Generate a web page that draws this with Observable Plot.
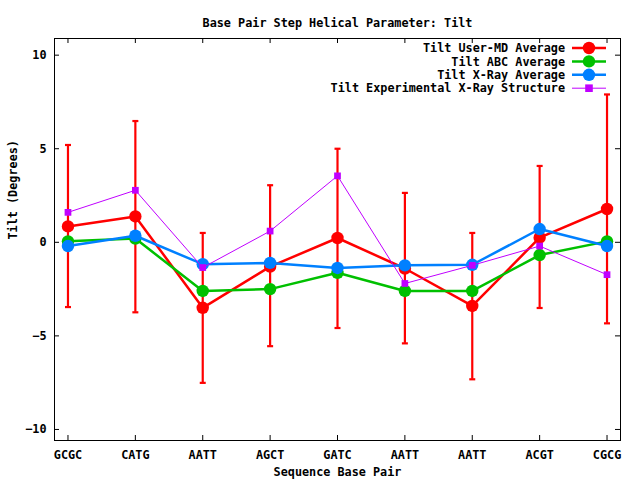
<!DOCTYPE html>
<html>
<head>
<meta charset="utf-8">
<script src="https://cdn.jsdelivr.net/npm/d3@7"></script>
<script src="https://cdn.jsdelivr.net/npm/@observablehq/plot@0.6"></script>
<style>
  html, body { margin: 0; padding: 0; background: #fff; }
</style>
</head>
<body>
<div id="chart"></div>
<script>
const title = "Base Pair Step Helical Parameter: Tilt";
const xLabel = "Sequence Base Pair";
const yLabel = "Tilt (Degrees)";
const categories = ["GCGC", "CATG", "AATT", "AGCT", "GATC", "AATT", "AATT", "ACGT", "CGCG"];
const userMD     = [0.85, 1.38, -3.5, -1.3, 0.23, -1.4, -3.4, 0.25, 1.78];
const userMDHigh = [5.2, 6.48, 0.5, 3.05, 5.0, 2.64, 0.5, 4.08, 7.9];
const userMDLow  = [-3.46, -3.74, -7.51, -5.55, -4.58, -5.4, -7.32, -3.51, -4.33];
const abcAvg     = [0.05, 0.2, -2.6, -2.5, -1.63, -2.6, -2.6, -0.68, 0.05];
const xrayAvg    = [-0.2, 0.35, -1.17, -1.1, -1.37, -1.23, -1.2, 0.71, -0.2];
const xrayExp    = [1.6, 2.78, -1.35, 0.6, 3.55, -2.2, -1.23, -0.2, -1.73];
const yTicks = [-10, -5, 0, 5, 10];
const seriesNames = ["Tilt User-MD Average", "Tilt ABC Average", "Tilt X-Ray Average", "Tilt Experimental X-Ray Structure"];
const seriesColors = ["#ff0000", "#00c000", "#0080ff", "#c000ff"];

const idx = categories.map((_, i) => i);
const rows = (vals) => vals.map((v, i) => ({i, v}));
const errRows = idx.map(i => ({i, lo: userMDLow[i], hi: userMDHigh[i]}));

const W = 640, H = 480, mL = 54, mR = 20, mT = 38, mB = 40;
const innerW = W - mL - mR, innerH = H - mT - mB, tk = 5;
const font = "'DejaVu Sans Mono', monospace";
const fs = "11.8px";

const capSymbol = {draw(ctx, size) { const r = Math.sqrt(size / Math.PI); ctx.moveTo(-r, 0); ctx.lineTo(r, 0); }};

const series = [userMD, abcAvg, xrayAvg];
const marks = [
  Plot.frame({stroke: "black"}),
  Plot.tickY(yTicks, {y: d => d, insetRight: innerW - tk, stroke: "black"}),
  Plot.tickY(yTicks, {y: d => d, insetLeft: innerW - tk, stroke: "black"}),
  Plot.tickX(idx, {x: d => d, insetTop: innerH - tk, stroke: "black"}),
  Plot.tickX(idx, {x: d => d, insetBottom: innerH - tk, stroke: "black"}),
  Plot.axisY(yTicks, {tickSize: 0, tickPadding: 8, label: null, fontWeight: "bold"}),
  Plot.axisX(idx, {tickSize: 0, tickPadding: 10, tickFormat: i => categories[i], label: null, fontWeight: "bold"}),
  Plot.ruleX(errRows, {x: "i", y1: "lo", y2: "hi", stroke: seriesColors[0], strokeWidth: 2.2}),
  Plot.dot(errRows, {x: "i", y: "lo", symbol: capSymbol, r: 3, stroke: seriesColors[0], strokeWidth: 2.2}),
  Plot.dot(errRows, {x: "i", y: "hi", symbol: capSymbol, r: 3, stroke: seriesColors[0], strokeWidth: 2.2}),
];
series.forEach((s, k) => {
  marks.push(Plot.line(rows(s), {x: "i", y: "v", stroke: seriesColors[k], strokeWidth: 2.5}));
  marks.push(Plot.dot(rows(s), {x: "i", y: "v", fill: seriesColors[k], r: 6.2}));
});
marks.push(Plot.line(rows(xrayExp), {x: "i", y: "v", stroke: seriesColors[3], strokeWidth: 1}));
marks.push(Plot.dot(rows(xrayExp), {x: "i", y: "v", fill: seriesColors[3], symbol: "square", r: 3.8}));
marks.push(Plot.text([title], {frameAnchor: "top", dy: -20, fontWeight: "bold"}));
marks.push(Plot.text([xLabel], {frameAnchor: "bottom", dy: 35, fontWeight: "bold"}));
marks.push(Plot.text([yLabel], {frameAnchor: "left", dx: -41, rotate: -90, fontWeight: "bold"}));

const chart = Plot.plot({
  width: W, height: H,
  marginLeft: mL, marginRight: mR, marginTop: mT, marginBottom: mB,
  x: {type: "linear", domain: [-0.2, 8.2]},
  y: {domain: [-10.59, 10.89]},
  style: {fontFamily: font, fontSize: fs, color: "black", background: "white"},
  marks
});
document.getElementById("chart").appendChild(chart);

// legend (inside plot, top right)
const svg = d3.select(chart);
const lg = svg.append("g").attr("font-family", font).attr("font-size", fs).attr("font-weight", "bold");
seriesNames.forEach((name, k) => {
  const y = mT + 10 + 13.4 * k;
  const g = lg.append("g").attr("transform", `translate(${W - mR - 31},${y})`);
  g.append("text").attr("x", -24).attr("dy", "0.35em").attr("text-anchor", "end").attr("fill", "black").text(name);
  g.append("line").attr("x1", -17).attr("x2", 17).attr("stroke", seriesColors[k]).attr("stroke-width", k === 3 ? 1 : 2.5);
  if (k === 3) g.append("rect").attr("x", -3.8).attr("y", -3.8).attr("width", 7.6).attr("height", 7.6).attr("fill", seriesColors[k]);
  else g.append("circle").attr("r", 6.2).attr("fill", seriesColors[k]);
});
</script>
</body>
</html>
